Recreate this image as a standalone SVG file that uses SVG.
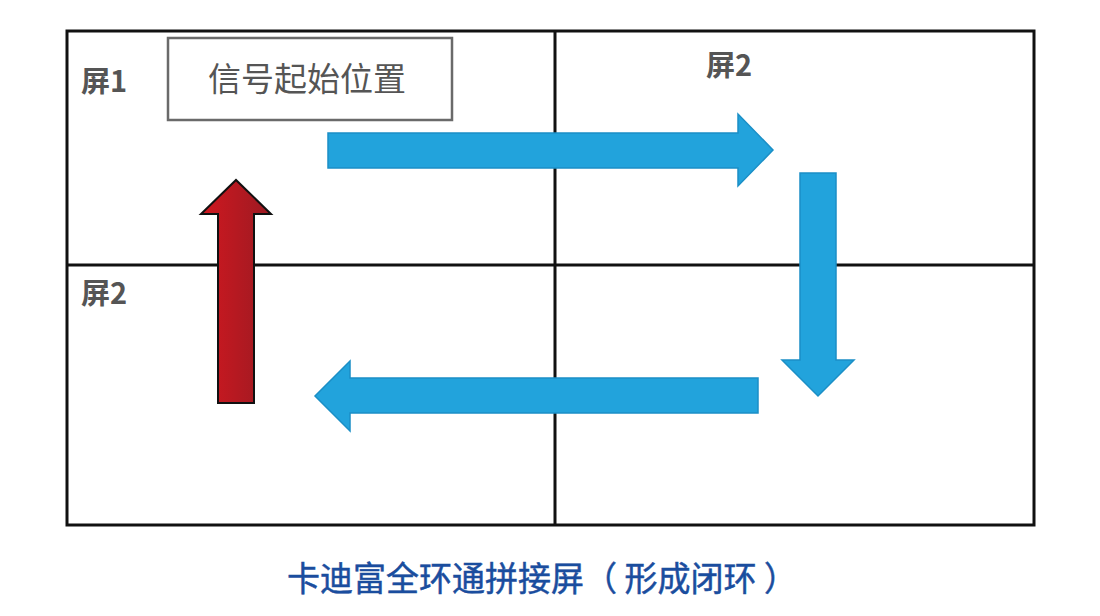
<svg xmlns="http://www.w3.org/2000/svg" width="1100" height="616" viewBox="0 0 1100 616">
<defs>
<linearGradient id="redg" x1="0" y1="0" x2="1" y2="0">
<stop offset="0" stop-color="#d01820"/>
<stop offset="1" stop-color="#9c1a22"/>
</linearGradient>
<style>
.grid{fill:none;stroke:#111;stroke-width:3}
.blue{fill:#22a3dc;stroke:#1b8fc6;stroke-width:1.5;stroke-linejoin:miter}
.lbl{font-family:"Noto Sans CJK SC","Noto Sans",sans-serif;font-weight:bold;font-size:29px;fill:#555}
</style>
</defs>
<rect width="1100" height="616" fill="#fff"/>
<g id="screens">
<rect class="grid" x="67" y="31" width="967" height="494"/>
<line class="grid" x1="555" y1="31" x2="555" y2="525"/>
<line class="grid" x1="67" y1="265" x2="1034" y2="265"/>
</g>
<g id="label-screen1"><text class="lbl" x="81" y="92">屏1</text></g>
<g id="label-screen2-top"><text class="lbl" x="706" y="76">屏2</text></g>
<g id="label-screen2-left"><text class="lbl" x="81" y="304">屏2</text></g>
<g id="start-box">
<rect x="168" y="38" width="284" height="82" fill="#fff" stroke="#6a6a6a" stroke-width="2.5"/>
<text x="307" y="91" text-anchor="middle" font-family="Noto Sans CJK SC,sans-serif" font-size="33" fill="#555">信号起始位置</text>
</g>
<g id="connectors">
<polygon id="arrow-right" class="blue" points="328,133 738,133 738,114 773,150 738,186 738,168 328,168"/>
<polygon id="arrow-down" class="blue" points="800,173 836,173 836,360 854,360 818,396 782,360 800,360"/>
<polygon id="arrow-left" class="blue" points="758,378 350,378 350,361 315,396 350,431 350,413 758,413"/>
<polygon id="arrow-up" fill="url(#redg)" stroke="#111" stroke-width="2" points="218,403 254,403 254,214 271,214 236,180 201,214 218,214"/>
</g>
<g id="caption">
<text x="287" y="591" textLength="510" lengthAdjust="spacingAndGlyphs" font-family="Noto Sans CJK SC,sans-serif" font-size="34" fill="#1a4d9e" stroke="#1a4d9e" stroke-width="0.5">卡迪富全环通拼接屏（ 形成闭环 ）</text>
</g>
</svg>
